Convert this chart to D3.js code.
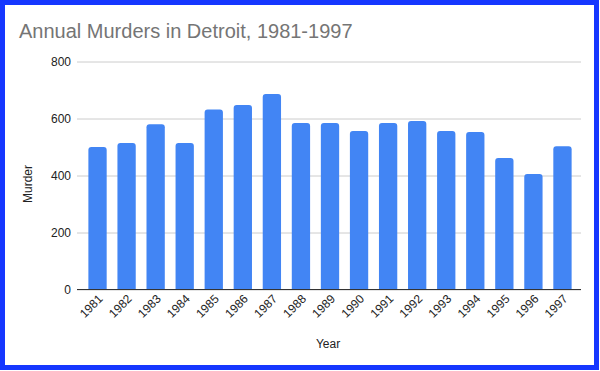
<!DOCTYPE html>
<html>
<head>
<meta charset="utf-8">
<script src="https://cdn.jsdelivr.net/npm/d3@7"></script>
<style>
  body { margin: 0; background: #fff; }
  text { font-family: "Liberation Sans", Arial, sans-serif; }
</style>
</head>
<body>
<div id="chart"></div>
<script>
const years = ["1981","1982","1983","1984","1985","1986","1987","1988","1989",
               "1990","1991","1992","1993","1994","1995","1996","1997"];
const murders = [500, 514, 580, 514, 632, 647, 686, 584, 584,
                 556, 584, 591, 556, 553, 461, 405, 503];
const yTicks = [0, 200, 400, 600, 800];

const width = 600;
const height = 371;

const svg = d3.select("#chart")
    .append("svg")
    .attr("width", width)
    .attr("height", height);

// blue frame
svg.append("rect")
    .attr("x", 2.5).attr("y", 2.5)
    .attr("width", width - 6).attr("height", height - 6)
    .attr("fill", "#fff")
    .attr("stroke", "#1537ff")
    .attr("stroke-width", 5);

svg.append("text")
    .attr("x", 19).attr("y", 38)
    .attr("font-size", 20)
    .attr("fill", "#757575")
    .text("Annual Murders in Detroit, 1981-1997");

const x = d3.scaleBand()
    .domain(years)
    .range([83, 577])
    .paddingInner(0.37)
    .paddingOuter(0.185);

const y = d3.scaleLinear()
    .domain([0, 800])
    .range([289.5, 61.5]);

// grid + y labels
const yAxis = svg.append("g")
    .attr("transform", "translate(77,0)")
    .call(d3.axisLeft(y).tickValues(yTicks).tickSize(-504).tickPadding(6));
yAxis.select(".domain").remove();
yAxis.selectAll(".tick line").attr("stroke", "#cccccc");
yAxis.selectAll(".tick text")
    .attr("font-size", 12)
    .attr("fill", "#222")
    .attr("font-family", "Liberation Sans, Arial, sans-serif");

const r = 3;
svg.append("g").selectAll("path")
    .data(murders)
    .enter().append("path")
    .attr("fill", "#4285f4")
    .attr("d", (d, i) => {
        const x0 = x(years[i]), w = x.bandwidth();
        const top = y(d), bot = y(0);
        return `M${x0},${bot}V${top + r}Q${x0},${top} ${x0 + r},${top}H${x0 + w - r}Q${x0 + w},${top} ${x0 + w},${top + r}V${bot}Z`;
    });

// baseline
svg.append("line")
    .attr("x1", 77).attr("x2", 581)
    .attr("y1", y(0)).attr("y2", y(0))
    .attr("stroke", "#333").attr("stroke-width", 1);

// x labels
const xAxis = svg.append("g")
    .attr("transform", `translate(0,${y(0)})`)
    .call(d3.axisBottom(x).tickSize(0).tickPadding(0));
xAxis.select(".domain").remove();
xAxis.selectAll(".tick text")
    .attr("font-size", 12)
    .attr("fill", "#222")
    .attr("font-family", "Liberation Sans, Arial, sans-serif")
    .attr("text-anchor", "end")
    .attr("dy", 0)
    .attr("transform", "translate(6,10) rotate(-45)");

svg.append("text")
    .attr("x", 328).attr("y", 348)
    .attr("text-anchor", "middle")
    .attr("font-size", 12)
    .attr("fill", "#222")
    .text("Year");

svg.append("text")
    .attr("transform", "translate(32,184) rotate(-90)")
    .attr("text-anchor", "middle")
    .attr("font-size", 12)
    .attr("fill", "#222")
    .text("Murder");
</script>
</body>
</html>
